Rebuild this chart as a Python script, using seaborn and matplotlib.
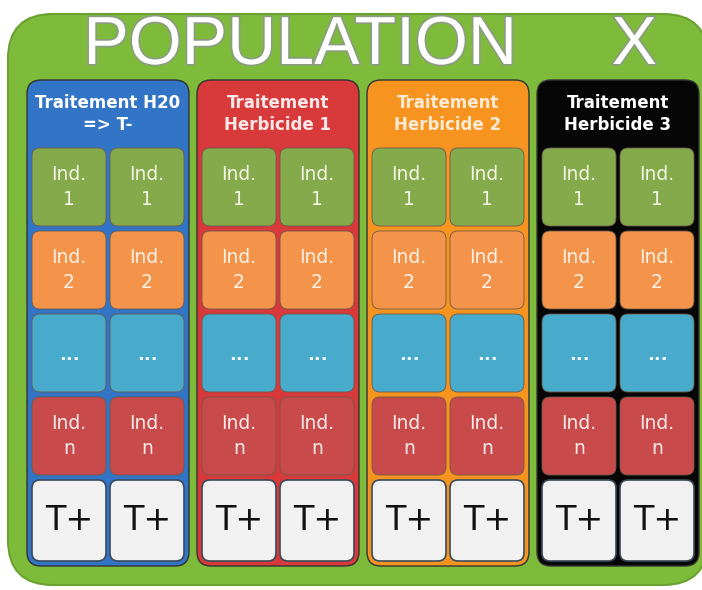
import matplotlib
matplotlib.use("Agg")
import matplotlib.pyplot as plt
import matplotlib.patheffects as pe
from matplotlib.patches import FancyBboxPatch
import seaborn as sns

# diagram content
title = "POPULATION     X"
treatments = ["Traitement H20\n=> T-", "Traitement\nHerbicide 1",
              "Traitement\nHerbicide 2", "Traitement\nHerbicide 3"]
treatment_colors = ["#3274c6", "#d8393b", "#f7931f", "#060606"]
header_text_colors = ["#ffffff", "#fbe9e9", "#fdebd6", "#ffffff"]
row_labels = ["Ind.\n1", "Ind.\n2", "...", "Ind.\nn", "T+"]
row_colors = ["#84aa4c", "#f4944b", "#49abcc", "#c94a4b", "#f1f1f1"]
row_text_colors = ["#f6f6e6", "#fdf2e6", "#eef8fb", "#fbecec", "#111111"]
n_replicates = 2

sns.set_theme(style="white")
plt.rcParams["font.family"] = ["Liberation Sans Narrow", "DejaVu Sans"]

fig = plt.figure(figsize=(7.02, 5.9), dpi=100)
ax = fig.add_axes([0, 0, 1, 1])
ax.set_xlim(0, 702)
ax.set_ylim(590, 0)
ax.axis("off")

# green population background
ax.add_patch(FancyBboxPatch((8 + 45, 14 + 45), 700 - 90, 571 - 90,
                            boxstyle="round,pad=45", fc="#7fbb3b", ec="#6aa130", lw=1.5))

ax.text(370, 46, title, ha="center", va="center", fontsize=49,
        family=["Liberation Sans", "DejaVu Sans"], color="white",
        path_effects=[pe.withStroke(linewidth=2.5, foreground="#8c9c80")])

col_x0, col_step, col_w = 27, 170, 162
col_top, col_bottom = 80, 566
cell_top, row_step, cell_h = 148, 83, 78

for i, (name, ccol, tcol) in enumerate(zip(treatments, treatment_colors, header_text_colors)):
    x0 = col_x0 + i * col_step
    ax.add_patch(FancyBboxPatch((x0 + 14, col_top + 14), col_w - 28, col_bottom - col_top - 28,
                                boxstyle="round,pad=14", fc=ccol, ec="#333333", lw=1))
    ax.text(x0 + col_w / 2, 114, name, ha="center", va="center", fontsize=12,
            fontweight="bold", color=tcol, linespacing=1.25)
    cell_w = (col_w - 14) / n_replicates
    for j in range(n_replicates):
        cx = x0 + 5 + j * (cell_w + 4)
        for k, (lab, rcol, rtcol) in enumerate(zip(row_labels, row_colors, row_text_colors)):
            cy = cell_top + k * row_step
            h = cell_h + (3 if k == len(row_labels) - 1 else 0)
            ax.add_patch(FancyBboxPatch((cx + 8, cy + 8), cell_w - 16, h - 16,
                                        boxstyle="round,pad=8", fc=rcol,
                                        ec="#3a4a5a" if k == len(row_labels) - 1 else "#6b5a4a",
                                        lw=1.2 if k == len(row_labels) - 1 else 0.6))
            fs = 24 if lab == "T+" else (13 if lab == "..." else 13.5)
            fw = "bold" if lab == "..." else "normal"
            ax.text(cx + cell_w / 2, cy + h / 2 + (2 if lab == "..." else 0), lab,
                    ha="center", va="center", fontsize=fs, fontweight=fw,
                    color=rtcol, linespacing=1.4,
                    family=["DejaVu Sans"] if lab == "T+" else None)

fig.savefig("out.png", dpi=100)
